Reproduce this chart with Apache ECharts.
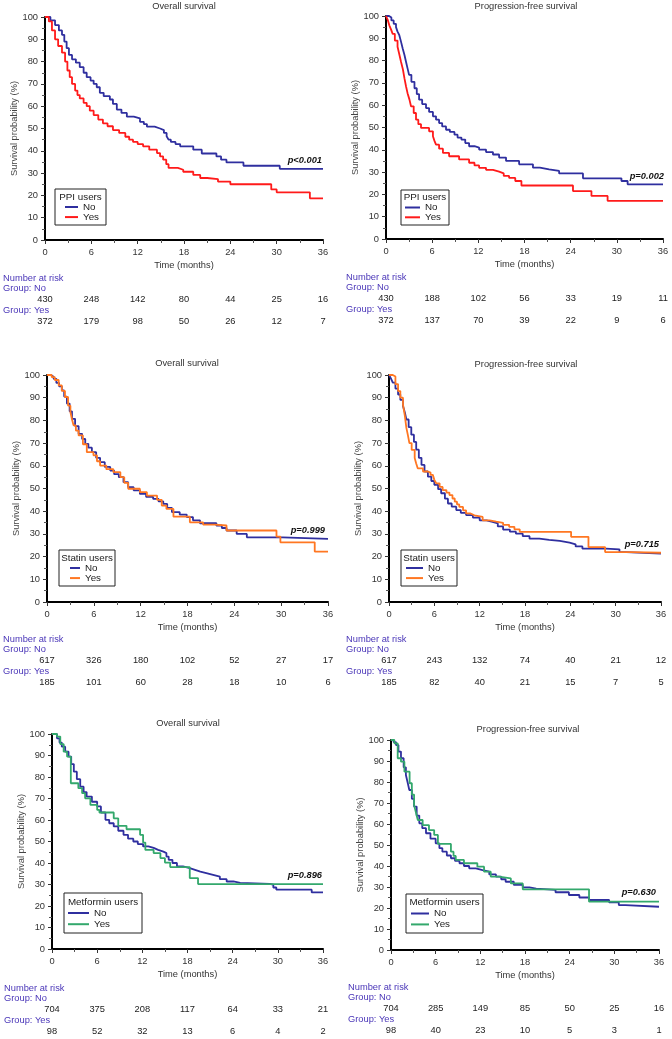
<!DOCTYPE html>
<html><head><meta charset="utf-8">
<script src="https://cdn.jsdelivr.net/npm/echarts@6/dist/echarts.min.js"></script>
<style>html,body{margin:0;padding:0;background:#fff}#c{width:672px;height:1039px}</style>
</head><body><div id="c"></div>
<script>
// ---------- DATA ----------
const timeTicks = [0, 6, 12, 18, 24, 30, 36];

const osPpiNo = [[0,100],[0.7,98.5],[1.3,96.4],[1.8,94],[2.2,92],[2.5,89],[2.8,86],[3.1,83],[3.5,81],[4,79.5],[4.5,77.5],[5,75],[5.4,73],[5.9,71.5],[6.3,70],[6.7,68.5],[7.1,66],[7.6,64.5],[8.4,63],[8.8,61],[9.3,58.5],[9.9,57],[10.6,55.3],[11.5,54.5],[12.3,53],[12.8,52],[13.2,50.8],[14.2,50],[14.9,49.3],[15.4,48],[15.75,46.5],[16.0,45],[16.3,44],[16.9,43],[17.5,42],[19.2,40.5],[20.3,38.8],[22.2,37.5],[22.8,36],[23.5,34.8],[25.7,33.3],[30.4,31.9],[36,31.9]];
const osPpiYes = [[0,100],[0.5,98],[0.9,94],[1.3,90],[1.7,87],[2.2,84],[2.6,80],[2.9,76],[3.2,73],[3.5,70],[3.9,67],[4.2,65],[4.5,63.5],[5,61.5],[5.4,60],[5.8,58],[6.3,56],[6.9,54],[7.5,52.3],[8.1,51],[8.8,49.3],[9.6,48],[10.4,46.3],[10.9,45],[11.4,44],[12.0,43],[12.7,42],[13.5,40.5],[14.5,39],[14.9,37.5],[15.3,36],[15.7,34],[16.0,32.3],[17.2,31.5],[17.9,30.6],[19.2,29.2],[20.1,27.8],[21,27.3],[22.4,26.2],[24.0,25.0],[29.3,22.7],[30.0,21.4],[34.3,18.7],[36,18.7]];

const pfsPpiNo = [[0,100],[0.4,99.3],[0.7,98],[1.0,96.5],[1.3,95],[1.5,93],[1.73,91.4],[1.95,88.5],[2.17,85.4],[2.4,82.5],[2.6,79.5],[2.8,76.5],[3.0,73.6],[3.3,70.5],[3.7,67.6],[4.0,65],[4.3,62.5],[4.7,60.5],[5.2,58.7],[5.6,57],[6.1,55],[6.5,53.5],[6.9,52],[7.3,50.5],[7.8,49],[8.3,48],[8.9,46.8],[9.3,45.5],[9.8,44.6],[10.3,43],[10.8,41.6],[11.5,41],[12.1,40.1],[13.0,39],[13.9,37.9],[14.7,36.5],[15.6,35],[17.3,33.5],[19.1,32],[20.0,31.2],[21.2,30.5],[22.5,29.4],[25.6,27.2],[30.6,26],[31.4,24.5],[36,24.5]];
const pfsPpiYes = [[0,100],[0.25,98],[0.43,95.8],[0.65,94],[0.87,92],[1.15,89],[1.5,86.2],[1.75,82.5],[1.95,79.5],[2.2,76],[2.4,72],[2.6,68.5],[2.8,65.4],[3.05,62.5],[3.25,59.5],[3.6,56.5],[3.9,53.5],[4.2,51.5],[4.55,49.8],[5.6,48.3],[6.1,46.1],[6.3,44],[6.5,42.3],[6.9,40.5],[7.4,38.6],[8.2,37.1],[9.5,35.7],[10.8,34.2],[11.5,33],[12.1,31.9],[13.0,31],[13.9,30.2],[14.7,29.4],[15.3,28.3],[16.0,27.4],[16.8,26],[17.6,24],[24.3,21.5],[26.7,19.3],[28.8,17.1],[36,17.1]];

const osStatinNo = [[0,100],[0.5,99.2],[0.85,98.3],[1.2,96.5],[1.55,95],[1.9,93.2],[2.2,90.5],[2.55,87.4],[2.9,84],[3.2,80.7],[3.6,77.5],[4.05,74.1],[4.5,71.8],[4.9,69.7],[5.3,68],[5.75,66],[6.3,63.5],[6.8,61.6],[7.4,59.5],[8.1,57.9],[8.6,56.3],[9.2,55],[9.8,52.8],[10.4,50.6],[11.1,49.2],[11.9,47.6],[12.7,46.3],[13.6,45.4],[14.3,44.3],[14.9,43.2],[15.4,41.5],[16.0,39.6],[17.0,38.5],[17.9,37.4],[18.7,36],[19.6,34.7],[21.7,33.7],[22.4,32.6],[23.0,31.5],[24.3,30.0],[25.6,28.5],[30.2,27.8],[36,27.8]];
const osStatinYes = [[0,100],[0.6,99.1],[1.0,97.8],[1.5,95.4],[1.9,93],[2.3,90.3],[2.7,86.5],[3.0,83.7],[3.2,80.5],[3.4,77.8],[3.7,75.5],[4.05,73.4],[4.6,69.5],[5.1,66],[5.95,64.6],[6.4,62],[6.8,60.1],[7.6,58.5],[8.5,57.2],[9.4,55],[9.9,52.5],[10.4,49.9],[11.9,48.4],[12.8,46.9],[14.1,45],[14.7,42.5],[15.3,41],[16.2,37.6],[18.3,35.1],[20.0,34.1],[21.5,33.7],[23.0,31.5],[29.4,28.8],[29.9,26.3],[34.3,22.2],[36,22.2]];

const pfsStatinNo = [[0,100],[0.25,98.5],[0.5,96.6],[0.85,94],[1.2,91.4],[1.5,89],[1.85,86.3],[2.1,83.5],[2.3,80.4],[2.6,77],[2.95,73.7],[3.3,70.5],[3.6,67.1],[3.95,63.5],[4.3,60.4],[4.7,57.5],[5.15,55.2],[5.6,53.3],[6.0,51.6],[6.5,49.7],[6.9,47.9],[7.4,45.5],[7.8,43.4],[8.3,42],[8.9,40.5],[9.5,39.3],[10.2,38.3],[11.1,37.2],[12.0,36],[12.9,35.3],[13.7,34.6],[14.4,33.3],[15.1,31.9],[16.0,31],[16.8,30.1],[17.7,29],[18.6,27.9],[19.9,27.4],[21.2,26.9],[22.6,26.2],[23.9,25.4],[24.7,24.5],[25.6,23.5],[28.7,23.2],[30.5,22.0],[31.4,21.3],[36,21.3]];
const pfsStatinYes = [[0,100],[0.5,99.3],[0.85,96],[1.2,92.9],[1.5,90],[1.85,87],[2.1,82],[2.3,76.7],[2.5,73.5],[2.7,70],[3.0,67],[3.4,63.4],[3.6,61],[3.8,58.9],[4.5,57.5],[5.15,57.0],[5.5,56],[5.8,55.2],[6.0,53.8],[6.25,52.3],[6.7,50.7],[7.1,49.3],[7.6,48.2],[8.0,47.1],[8.4,45.6],[8.7,44.2],[9.0,43],[9.3,41.9],[9.8,40.4],[10.2,39],[10.8,38.2],[11.3,37.5],[12.4,36],[13.3,35.4],[14.2,34.9],[15.1,34],[15.9,33.1],[16.6,32],[17.3,30.9],[24.1,28.7],[26.4,24.2],[28.6,22.0],[32,21.7],[36,21.7]];

const osMetNo = [[0,100],[0.66,98],[1.0,96],[1.3,94.1],[1.75,91.8],[2.2,89.5],[2.55,86],[2.9,82.5],[3.3,79],[3.75,75.5],[4.2,73],[4.6,70.9],[5.3,68.5],[6.0,66.3],[6.5,63.5],[7.1,60.1],[7.6,58.5],[8.2,57],[8.8,55],[9.5,53.1],[10.1,51.3],[10.8,50],[11.4,48.8],[12.1,47.7],[12.8,47],[13.5,46.1],[14.1,45.3],[14.8,44.6],[15.2,43],[15.5,41.5],[16.0,40],[16.6,38.4],[17.4,37.6],[18.3,36.8],[19.0,36],[19.7,35.3],[20.5,34.5],[21.4,33.7],[22.3,32.5],[23.2,31.4],[24.1,30.8],[25.0,30.3],[28.9,29.9],[29.4,28.6],[29.8,27.6],[34.5,26.3],[36,26.3]];
const osMetYes = [[0,100],[0.66,98.8],[1.1,95.3],[1.55,91.8],[2.0,89.5],[2.5,77.1],[3.5,74.8],[4.0,72.5],[4.4,70.1],[5.1,67.0],[6.0,64.7],[6.3,63.5],[8.2,60.8],[8.8,57.3],[9.9,55.7],[11.7,53.1],[12.1,49.5],[12.4,46.1],[13.5,44.6],[14.4,42.3],[15.0,40.2],[15.7,38.1],[18.3,33.0],[19.4,30.2],[36,30.2]];

const pfsMetNo = [[0,100],[0.35,99],[0.67,97.6],[1.0,94.5],[1.34,91.3],[1.7,87],[2.0,83.3],[2.25,79.5],[2.46,76.2],[2.8,72],[3.1,68.3],[3.45,64],[3.8,60.3],[4.2,58],[4.7,55.6],[5.3,53],[6.0,50.8],[6.5,48.5],[6.9,46.8],[7.5,45],[8.05,43.7],[8.6,42.4],[9.2,41.3],[9.8,40],[10.5,38.9],[11.4,38],[12.3,37.3],[13.2,36],[14.1,34.9],[14.8,33.7],[15.4,32.5],[16.5,31],[17.7,29.8],[18.6,29.2],[19.5,28.6],[22.1,27.5],[23.9,26.2],[25.3,25],[26.6,23.8],[29.3,22.7],[30.6,21.4],[31.5,20.6],[36,20.6]];
const pfsMetYes = [[0,100],[0.45,98.4],[0.9,91.3],[1.34,89.7],[1.8,84.9],[2.5,79.4],[2.8,74],[3.1,69.0],[3.35,65.5],[3.6,61.9],[4.25,59.5],[5.1,57.1],[5.8,54.8],[6.3,50.5],[8.05,46.8],[8.4,44.8],[8.7,42.9],[9.8,41.3],[11.6,39.7],[12.5,37.3],[13.4,34.9],[14.5,34.1],[16.1,31.7],[17.7,28.9],[26.6,23.0],[36,23.0]];

const riskOsPpiNo = [430,248,142,80,44,25,16];
const riskOsPpiYes = [372,179,98,50,26,12,7];
const riskPfsPpiNo = [430,188,102,56,33,19,11];
const riskPfsPpiYes = [372,137,70,39,22,9,6];
const riskOsStatinNo = [617,326,180,102,52,27,17];
const riskOsStatinYes = [185,101,60,28,18,10,6];
const riskPfsStatinNo = [617,243,132,74,40,21,12];
const riskPfsStatinYes = [185,82,40,21,15,7,5];
const riskOsMetNo = [704,375,208,117,64,33,21];
const riskOsMetYes = [98,52,32,13,6,4,2];
const riskPfsMetNo = [704,285,149,85,50,25,16];
const riskPfsMetYes = [98,40,23,10,5,3,1];

const titles = ['Overall survival','Progression-free survival','Overall survival','Progression-free survival','Overall survival','Progression-free survival'];
const groupNames = ['PPI users','PPI users','Statin users','Statin users','Metformin users','Metformin users'];
const pValues = ['p<0.001','p=0.002','p=0.999','p=0.715','p=0.896','p=0.630'];
const seriesNames = ['No','Yes'];

// ---------- LAYOUT / STYLE ----------
const BLUE = '#2f2f9f';
const FONT = 'Arial, "Liberation Sans", sans-serif';
const FS = 9.3;
const panels = [
  {grid:{left:45,top:17,width:278,height:223}, curves:[osPpiNo,osPpiYes], risk:[riskOsPpiNo,riskOsPpiYes], color:'#ff1a1a', titleXY:[184,6], yGap:19, lbl:3, riskY:278, leg:{x:55,y:189,w:51,h:36,lx:65,tx:83}, pXY:[322,160]},
  {grid:{left:386,top:16,width:277,height:223}, curves:[pfsPpiNo,pfsPpiYes], risk:[riskPfsPpiNo,riskPfsPpiYes], color:'#ff1a1a', titleXY:[526,6], yGap:23, lbl:346, riskY:277, leg:{x:401,y:190,w:48,h:35,lx:405,tx:425}, pXY:[664,176]},
  {grid:{left:47,top:375,width:281,height:227}, curves:[osStatinNo,osStatinYes], risk:[riskOsStatinNo,riskOsStatinYes], color:'#ff7722', titleXY:[187,363], yGap:22, lbl:3, riskY:639, leg:{x:59,y:550,w:56,h:36,lx:70,tx:85}, pXY:[325,530]},
  {grid:{left:389,top:375,width:272,height:227}, curves:[pfsStatinNo,pfsStatinYes], risk:[riskPfsStatinNo,riskPfsStatinYes], color:'#ff7722', titleXY:[526,364], yGap:21, lbl:346, riskY:639, leg:{x:401,y:550,w:56,h:36,lx:406,tx:428}, pXY:[659,544]},
  {grid:{left:52,top:734,width:271,height:215}, curves:[osMetNo,osMetYes], risk:[riskOsMetNo,riskOsMetYes], color:'#33a86c', titleXY:[188,723], yGap:25, lbl:4, riskY:988, leg:{x:64,y:893,w:78,h:40,lx:68,tx:94}, pXY:[322,875]},
  {grid:{left:391,top:740,width:268,height:210}, curves:[pfsMetNo,pfsMetYes], risk:[riskPfsMetNo,riskPfsMetYes], color:'#33a86c', titleXY:[528,729], yGap:20, lbl:348, riskY:987, leg:{x:406,y:894,w:77,h:39,lx:411,tx:434}, pXY:[656,892]}
];

const chart = echarts.init(document.getElementById('c'), null, {renderer:'canvas'});
const grids=[], xAxes=[], yAxes=[], series=[];
panels.forEach((p,i)=>{
  grids.push(Object.assign({containLabel:false}, p.grid));
  xAxes.push({type:'value', gridIndex:i, min:timeTicks[0], max:timeTicks[timeTicks.length-1], interval:6,
    name:'Time (months)', nameLocation:'middle', nameGap:21, nameTextStyle:{fontFamily:FONT,fontSize:FS,color:'#333'},
    axisLine:{show:true,onZero:false,lineStyle:{color:'#000',width:2}},
    axisTick:{show:true,length:4,lineStyle:{color:'#333'}},
    minorTick:{show:true,splitNumber:2,length:3,lineStyle:{color:'#555'}},
    splitLine:{show:false},
    axisLabel:{fontFamily:FONT,fontSize:FS,color:'#333',margin:8}});
  yAxes.push({type:'value', gridIndex:i, min:0, max:100, interval:10,
    name:'Survival probability (%)', nameLocation:'middle', nameGap:p.yGap, nameRotate:90,
    nameTextStyle:{fontFamily:FONT,fontSize:FS,color:'#444'},
    axisLine:{show:true,onZero:false,lineStyle:{color:'#000',width:2}},
    axisTick:{show:true,length:4,lineStyle:{color:'#333'}},
    minorTick:{show:true,splitNumber:2,length:3,lineStyle:{color:'#555'}},
    splitLine:{show:false},
    axisLabel:{fontFamily:FONT,fontSize:FS,color:'#333',margin:7}});
  const cols=[BLUE,p.color];
  p.curves.forEach((d,k)=>{
    series.push({type:'line', name:seriesNames[k], xAxisIndex:i, yAxisIndex:i, data:d, step:'end',
      symbol:'none', lineStyle:{color:cols[k],width:1.8}, itemStyle:{color:cols[k]}, animation:false, z:2+k});
  });
});
chart.setOption({animation:false, backgroundColor:'#fff', grid:grids, xAxis:xAxes, yAxis:yAxes, series:series});

// graphics
const g=[];
function txt(x,y,text,opts){
  g.push({type:'text', x:x, y:y, silent:true, z:100, style:Object.assign({text:text, fill:'#333', font:FS+'px '+FONT, align:'left', verticalAlign:'middle'}, opts||{})});
}
const RISKCOL='#4a36b8';
panels.forEach((p,i)=>{
  const cols=[BLUE,p.color];
  txt(p.titleXY[0],p.titleXY[1],titles[i],{align:'center',fill:'#333'});
  const L=p.leg;
  g.push({type:'rect', shape:{x:L.x,y:L.y,width:L.w,height:L.h}, style:{fill:'#fff',stroke:'#222',lineWidth:1}, z:90, silent:true});
  txt(L.x+L.w/2, L.y+L.h*0.22, groupNames[i], {align:'center',fill:'#222',font:'9.8px '+FONT});
  for(let k=0;k<2;k++){
    const yy=L.y+L.h*(0.5+k*0.28);
    g.push({type:'line', shape:{x1:L.lx,y1:yy,x2:L.tx-5,y2:yy}, style:{stroke:cols[k],lineWidth:2}, z:95, silent:true});
    txt(L.tx, yy, seriesNames[k], {fill:'#222',font:'9.8px '+FONT});
  }
  txt(p.pXY[0],p.pXY[1],pValues[i],{align:'right',font:'italic bold '+FS+'px '+FONT,fill:'#111'});
  const y0=p.riskY;
  txt(p.lbl,y0,'Number at risk',{fill:RISKCOL});
  txt(p.lbl,y0+10.5,'Group: No',{fill:RISKCOL});
  txt(p.lbl,y0+32.5,'Group: Yes',{fill:RISKCOL});
  p.risk.forEach((row,k)=>{
    row.forEach((v,j)=>{
      const px=chart.convertToPixel({xAxisIndex:i}, timeTicks[j]);
      txt(px, y0+21.5+k*21.5, String(v), {align:'center',fill:'#222'});
    });
  });
});
chart.setOption({graphic:{elements:g}});
</script></body></html>
